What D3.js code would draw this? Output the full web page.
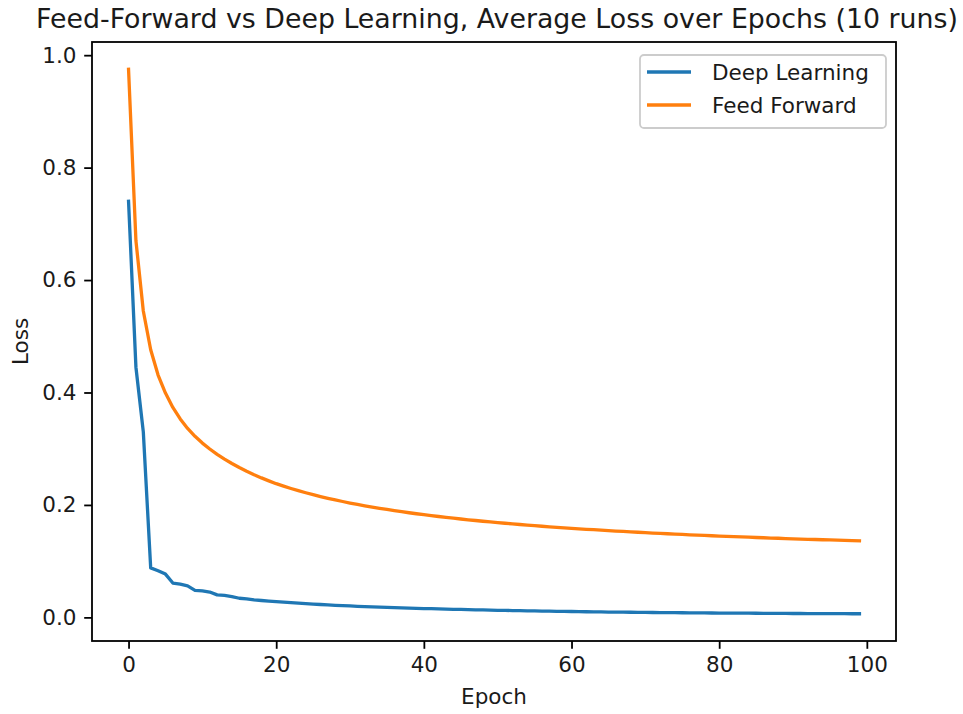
<!DOCTYPE html>
<html>
<head>
<meta charset="utf-8">
<script src="https://cdn.jsdelivr.net/npm/d3@7"></script>
<style>
  html, body { margin: 0; padding: 0; background: #fff; }
  svg { display: block; font-family: "DejaVu Sans", sans-serif; }
</style>
</head>
<body>
<svg id="chart" width="963" height="714"></svg>
<script>
const titleText = "Feed-Forward vs Deep Learning, Average Loss over Epochs (10 runs)";
const xLabel = "Epoch";
const yLabel = "Loss";
const seriesNames = ["Deep Learning", "Feed Forward"];
const seriesColors = ["#1f77b4", "#ff7f0e"];
const xTicks = [0, 20, 40, 60, 80, 100];
const yTicks = [0.0, 0.2, 0.4, 0.6, 0.8, 1.0];

const deepLearning = [
  0.740, 0.445, 0.330, 0.088, 0.083, 0.077, 0.061, 0.059, 0.056, 0.048,
  0.047, 0.045, 0.040, 0.039, 0.037, 0.034, 0.033, 0.031, 0.030, 0.029,
  0.0280, 0.0270, 0.0261, 0.0252, 0.0244, 0.0236, 0.0229, 0.0222, 0.0215, 0.0209,
  0.0203, 0.0197, 0.0192, 0.0187, 0.0182, 0.0177, 0.0173, 0.0169, 0.0165, 0.0161,
  0.0157, 0.0154, 0.0150, 0.0147, 0.0144, 0.0141, 0.0138, 0.0135, 0.0133, 0.0130,
  0.0126, 0.0124, 0.0121, 0.0119, 0.0116, 0.0114, 0.0112, 0.0110, 0.0108, 0.0106,
  0.0104, 0.0102, 0.0100, 0.0099, 0.0097, 0.0095, 0.0094, 0.0092, 0.0091, 0.0090,
  0.0088, 0.0087, 0.0086, 0.0085, 0.0083, 0.0082, 0.0081, 0.0080, 0.0079, 0.0078,
  0.0077, 0.0076, 0.0075, 0.0075, 0.0074, 0.0073, 0.0072, 0.0071, 0.0071, 0.0070,
  0.0069, 0.0069, 0.0068, 0.0067, 0.0067, 0.0066, 0.0065, 0.0065, 0.0064, 0.0064
];

const feedForward = [
  0.975, 0.670, 0.545, 0.476, 0.431, 0.399, 0.3735, 0.3530, 0.3360, 0.3220,
  0.3100, 0.2995, 0.2900, 0.2815, 0.2737, 0.2665, 0.2599, 0.2538, 0.2481, 0.2428,
  0.2378, 0.2334, 0.2293, 0.2254, 0.2217, 0.2182, 0.2149, 0.2118, 0.2089, 0.2061,
  0.2034, 0.2009, 0.1985, 0.1962, 0.1940, 0.1919, 0.1899, 0.1880, 0.1861, 0.1843,
  0.1826, 0.1810, 0.1794, 0.1779, 0.1764, 0.1750, 0.1736, 0.1723, 0.1710, 0.1698,
  0.1686, 0.1674, 0.1663, 0.1652, 0.1641, 0.1631, 0.1621, 0.1611, 0.1602, 0.1593,
  0.1584, 0.1575, 0.1567, 0.1559, 0.1551, 0.1543, 0.1535, 0.1528, 0.1521, 0.1514,
  0.1507, 0.1500, 0.1494, 0.1487, 0.1481, 0.1475, 0.1469, 0.1463, 0.1457, 0.1452,
  0.1446, 0.1441, 0.1436, 0.1431, 0.1426, 0.1421, 0.1416, 0.1411, 0.1407, 0.1402,
  0.1398, 0.1393, 0.1389, 0.1385, 0.1381, 0.1377, 0.1373, 0.1369, 0.1365, 0.1361
];

const series = [deepLearning, feedForward];

const W = 963, H = 714;
const margin = { left: 92, right: 67, top: 42, bottom: 73 };
const pw = W - margin.left - margin.right;
const ph = H - margin.top - margin.bottom;

const svg = d3.select("#chart");
const g = svg.append("g").attr("transform", `translate(${margin.left},${margin.top})`);

const n = deepLearning.length;
const xPad = (n - 1) * 0.05;
const x = d3.scaleLinear().domain([0 - xPad, (n - 1) + xPad]).range([0, pw]);

const allVals = deepLearning.concat(feedForward);
const yMin = d3.min(allVals), yMax = d3.max(allVals);
const yPad = (yMax - yMin) * 0.05;
const y = d3.scaleLinear().domain([yMin - yPad, yMax + yPad]).range([ph, 0]);

const tickLen = 7.8, tickPad = 7.8, fs = 21.5;
const textColor = "#1a1a1a";

// x axis
const xAxis = d3.axisBottom(x).tickValues(xTicks).tickFormat(d3.format("d"))
  .tickSizeInner(tickLen).tickSizeOuter(0).tickPadding(tickPad);
const gx = g.append("g").attr("transform", `translate(0,${ph})`).call(xAxis);
gx.select(".domain").remove();
gx.selectAll(".tick line").attr("stroke", "#000").attr("stroke-width", 1.8);
gx.selectAll(".tick text").attr("font-size", fs).attr("fill", textColor)
  .attr("font-family", "DejaVu Sans");

// y axis
const yAxis = d3.axisLeft(y).tickValues(yTicks).tickFormat(d3.format(".1f"))
  .tickSizeInner(tickLen).tickSizeOuter(0).tickPadding(tickPad);
const gy = g.append("g").call(yAxis);
gy.select(".domain").remove();
gy.selectAll(".tick line").attr("stroke", "#000").attr("stroke-width", 1.8);
gy.selectAll(".tick text").attr("font-size", fs).attr("fill", textColor)
  .attr("font-family", "DejaVu Sans");

// lines
const line = d3.line().x((d, i) => x(i)).y(d => y(d));
series.forEach((s, k) => {
  g.append("path").datum(s)
    .attr("d", line)
    .attr("fill", "none")
    .attr("stroke", seriesColors[k])
    .attr("stroke-width", 3.3)
    .attr("stroke-linejoin", "round")
    .attr("stroke-linecap", "square");
});

// frame
g.append("rect").attr("x", 0).attr("y", 0).attr("width", pw).attr("height", ph)
  .attr("fill", "none").attr("stroke", "#000").attr("stroke-width", 1.8);

// title
svg.append("text").attr("x", margin.left + pw / 2 + 3).attr("y", 28)
  .attr("text-anchor", "middle").attr("font-size", 26.8).attr("fill", textColor)
  .text(titleText);

// x label
svg.append("text").attr("x", margin.left + pw / 2).attr("y", 704)
  .attr("text-anchor", "middle").attr("font-size", fs).attr("fill", textColor)
  .text(xLabel);

// y label
svg.append("text")
  .attr("transform", `translate(28,${margin.top + ph / 2}) rotate(-90)`)
  .attr("text-anchor", "middle").attr("font-size", fs).attr("fill", textColor)
  .text(yLabel);

// legend
const lg = svg.append("g");
lg.append("rect").attr("x", 640).attr("y", 55).attr("width", 246).attr("height", 73)
  .attr("rx", 4).attr("ry", 4)
  .attr("fill", "#fff").attr("fill-opacity", 0.8)
  .attr("stroke", "#cccccc").attr("stroke-width", 1.8);
seriesNames.forEach((name, k) => {
  const cy = 72 + k * 33;
  lg.append("line").attr("x1", 647).attr("x2", 691).attr("y1", cy).attr("y2", cy)
    .attr("stroke", seriesColors[k]).attr("stroke-width", 3.3);
  lg.append("text").attr("x", 712).attr("y", cy + 8)
    .attr("font-size", fs).attr("fill", textColor).text(name);
});
</script>
</body>
</html>
